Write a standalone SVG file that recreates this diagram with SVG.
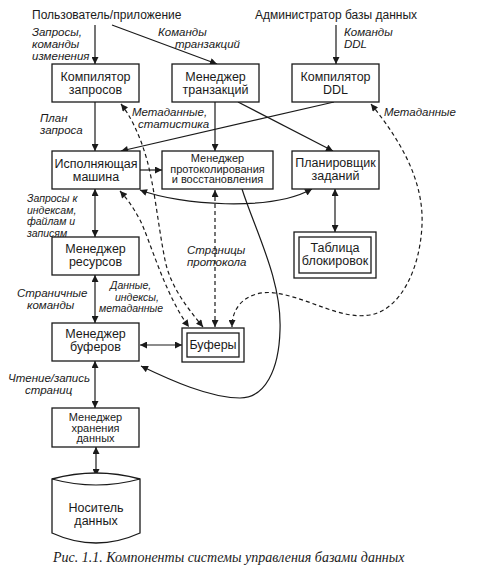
<svg xmlns="http://www.w3.org/2000/svg" width="484" height="572" viewBox="0 0 484 572">
<defs>
<marker id="ah" viewBox="0 0 10 10" refX="10" refY="5" markerWidth="8" markerHeight="7" markerUnits="userSpaceOnUse" orient="auto-start-reverse">
<path d="M0,0 L10,5 L0,10 z" fill="#1a1a1a"/>
</marker>
</defs>
<style>
.box{fill:#fff;stroke:#1a1a1a;stroke-width:1.3}
.t{font-family:"Liberation Sans",Arial,sans-serif;font-size:12.5px;fill:#1a1a1a;text-anchor:middle}
.ts{font-family:"Liberation Sans",Arial,sans-serif;font-size:11px;fill:#1a1a1a;text-anchor:middle}
.l{font-family:"Liberation Sans",Arial,sans-serif;font-size:11.5px;font-style:italic;fill:#1a1a1a}
.lt{font-family:"Liberation Sans",Arial,sans-serif;font-size:10.5px;font-style:italic;fill:#1a1a1a}
.top{font-family:"Liberation Sans",Arial,sans-serif;font-size:12px;fill:#1a1a1a}
.cap{font-family:"Liberation Serif","Times New Roman",serif;font-size:14px;font-style:italic;fill:#1a1a1a}
.c{fill:none;stroke:#1a1a1a;stroke-width:1.2}
.d{fill:none;stroke:#1a1a1a;stroke-width:1.2;stroke-dasharray:4,3}
</style>
<rect width="484" height="572" fill="#fff"/>

<g id="labels">
<text class="top" x="32" y="19">Пользователь/приложение</text>
<text class="top" x="255" y="19">Администратор базы данных</text>
<text class="l" x="32" y="36">Запросы,</text>
<text class="l" x="32" y="48">команды</text>
<text class="l" x="32" y="60">изменения</text>
<text class="l" x="158" y="36">Команды</text>
<text class="l" x="175" y="48">транзакций</text>
<text class="l" x="344" y="36">Команды</text>
<text class="l" x="344" y="48">DDL</text>
<text class="l" x="40" y="122">План</text>
<text class="l" x="40" y="134">запроса</text>
<text class="l" x="132" y="116">Метаданные,</text>
<text class="l" x="138" y="128">статистика</text>
<text class="l" x="384" y="116">Метаданные</text>
<text class="lt" x="27" y="202">Запросы к</text>
<text class="lt" x="27" y="213.5">индексам,</text>
<text class="lt" x="27" y="225">файлам и</text>
<text class="lt" x="27" y="236.5">записям</text>
<text class="l" x="187" y="254">Страницы</text>
<text class="l" x="187" y="266">протокола</text>
<text class="l" x="17" y="297">Страничные</text>
<text class="l" x="27" y="309">команды</text>
<text class="lt" x="110" y="289">Данные,</text>
<text class="lt" x="115" y="300.5">индексы,</text>
<text class="lt" x="99" y="312">метаданные</text>
<text class="l" x="8" y="382">Чтение/запись</text>
<text class="l" x="25" y="394">страниц</text>
</g>

<g id="connectors">
<line class="c" x1="95" y1="25" x2="95" y2="64" marker-end="url(#ah)"/>
<line class="c" x1="112" y1="25" x2="217" y2="64" marker-end="url(#ah)"/>
<line class="c" x1="336" y1="25" x2="336" y2="64" marker-end="url(#ah)"/>
<line class="c" x1="95" y1="102" x2="95" y2="151" marker-end="url(#ah)"/>
<line class="c" x1="215" y1="102" x2="215" y2="151" marker-end="url(#ah)"/>
<line class="c" x1="334" y1="102" x2="121" y2="151" marker-end="url(#ah)"/>
<line class="c" x1="238" y1="102" x2="333" y2="151" marker-end="url(#ah)"/>
<line class="c" x1="140" y1="170" x2="162" y2="170" marker-end="url(#ah)"/>
<path class="c" d="M140,190 C180,205 270,212 312,189" marker-start="url(#ah)" marker-end="url(#ah)"/>
<line class="c" x1="335" y1="189" x2="335" y2="232" marker-start="url(#ah)" marker-end="url(#ah)"/>
<line class="c" x1="95" y1="189" x2="95" y2="237" marker-start="url(#ah)" marker-end="url(#ah)"/>
<line class="c" x1="95" y1="275" x2="95" y2="323" marker-start="url(#ah)" marker-end="url(#ah)"/>
<line class="c" x1="140" y1="345" x2="182" y2="345" marker-start="url(#ah)" marker-end="url(#ah)"/>
<line class="c" x1="95" y1="361" x2="95" y2="408" marker-start="url(#ah)" marker-end="url(#ah)"/>
<line class="c" x1="96" y1="447" x2="96" y2="476" marker-start="url(#ah)" marker-end="url(#ah)"/>
<path class="c" d="M242,189 C255,230 282,280 280,330 C279,370 265,398 240,398 C210,398 170,380 141,366" marker-end="url(#ah)"/>
<path class="d" d="M121,104 C130,115 140,135 147,160 C155,190 158,225 165,260 C170,285 185,305 203,327" marker-start="url(#ah)" marker-end="url(#ah)"/>
<path class="d" d="M120,191 C128,200 133,207 140,220 C150,240 165,295 189,327" marker-start="url(#ah)" marker-end="url(#ah)"/>
<line class="d" x1="215" y1="190" x2="215" y2="327" marker-start="url(#ah)" marker-end="url(#ah)"/>
<path class="d" d="M371,104 C400,140 424,180 422,225 C420,270 400,310 370,315 C340,320 310,298 275,293 C255,290 232,300 232,327" marker-start="url(#ah)" marker-end="url(#ah)"/>
</g>

<g id="n-compiler">
<rect class="box" x="52" y="64" width="87" height="38"/>
<text class="t" x="95.5" y="81">Компилятор</text>
<text class="t" x="95.5" y="94">запросов</text>
</g>
<g id="n-txn">
<rect class="box" x="172" y="64" width="87" height="38"/>
<text class="t" x="215.5" y="81">Менеджер</text>
<text class="t" x="215.5" y="94">транзакций</text>
</g>
<g id="n-ddl">
<rect class="box" x="292" y="64" width="87" height="38"/>
<text class="t" x="335.5" y="81">Компилятор</text>
<text class="t" x="335.5" y="94">DDL</text>
</g>
<g id="n-exec">
<rect class="box" x="52" y="151" width="88" height="38"/>
<text class="t" x="96" y="168">Исполняющая</text>
<text class="t" x="96" y="181">машина</text>
</g>
<g id="n-log">
<rect class="box" x="162" y="151" width="111" height="38"/>
<text class="ts" x="217.5" y="162">Менеджер</text>
<text class="ts" x="217.5" y="172.5">протоколирования</text>
<text class="ts" x="217.5" y="183">и восстановления</text>
</g>
<g id="n-sched">
<rect class="box" x="292" y="151" width="87" height="38"/>
<text class="t" x="335.5" y="167">Планировщик</text>
<text class="t" x="335.5" y="180">заданий</text>
</g>
<g id="n-locks">
<rect class="box" x="294" y="232" width="82" height="46"/>
<rect class="box" x="299" y="237" width="72" height="36"/>
<text class="t" x="335" y="252">Таблица</text>
<text class="t" x="335" y="265">блокировок</text>
</g>
<g id="n-res">
<rect class="box" x="52" y="237" width="87" height="38"/>
<text class="t" x="95.5" y="253">Менеджер</text>
<text class="t" x="95.5" y="266">ресурсов</text>
</g>
<g id="n-bufmgr">
<rect class="box" x="52" y="323" width="87" height="38"/>
<text class="t" x="95.5" y="338">Менеджер</text>
<text class="t" x="95.5" y="351">буферов</text>
</g>
<g id="n-buf">
<rect class="box" x="182" y="328" width="62" height="34"/>
<rect class="box" x="187" y="333" width="52" height="24"/>
<text class="t" x="213" y="349">Буферы</text>
</g>
<g id="n-storage">
<rect class="box" x="52" y="408" width="87" height="39"/>
<text class="ts" x="95.5" y="421">Менеджер</text>
<text class="ts" x="95.5" y="431.5">хранения</text>
<text class="ts" x="95.5" y="442">данных</text>
</g>
<g id="n-disk">
<path class="box" d="M52,479 Q96,467 140,479 L140,533 Q96,553 52,533 Z"/>
<path class="c" d="M52,479 Q96,491 140,479"/>
<text class="t" x="96" y="512">Носитель</text>
<text class="t" x="96" y="525">данных</text>
</g>

<text class="cap" x="53" y="562">Рис. 1.1. Компоненты системы управления базами данных</text>
</svg>
